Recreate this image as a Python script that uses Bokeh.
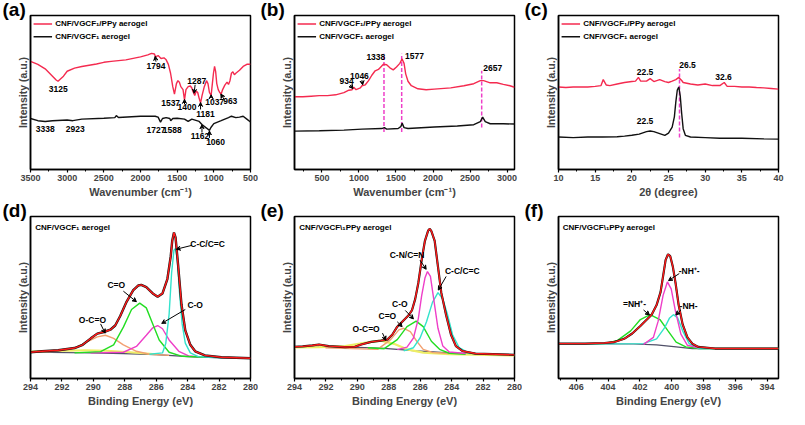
from bokeh.plotting import figure
from bokeh.models import Range1d, SingleIntervalTicker, FixedTicker, Arrow, VeeHead
from bokeh.layouts import row, column
from bokeh.core.properties import value
from bokeh.embed import file_html
from bokeh.resources import INLINE

FONT = "Liberation Sans"
RED = "#f42a4f"
BLACK = "#111111"
MAG = "#ee3fc8"
GREEN = "#22dd22"
CYAN = "#33e3cc"
ORANGE = "#f2a070"
YELLOW = "#eeee66"
BASE = "#505068"

# ---------------- (a) FTIR ----------------
a_x_ppy = [3500,3400,3300,3200,3150,3125,3050,3000,2900,2800,2600,2500,2400,2200,2000,1900,1850,1810,1794,1760,
           1720,1680,1650,1620,1590,1560,1537,1510,1490,1470,1450,1420,1400,1380,1350,1320,1300,1287,1260,1240,
           1220,1200,1181,1160,1130,1100,1080,1060,1037,1020,1005,990,975,960,940,920,900,880,850,820,
           800,780,760,740,720,700,650,600,550,500]
a_y_ppy = [70.2,68.3,65.4,60.6,58.1,57.3,60.6,63.8,65.8,66.9,68.5,69.6,70.2,71.2,73.1,74.4,75.4,75.0,73.1,74.0,
           72.1,72.5,71.2,68.3,62.5,53.8,49.0,55.8,57.7,56.7,53.8,51.9,45.2,51.9,53.8,54.2,52.9,51.0,48.1,51.0,
           50.0,46.2,43.3,48.1,53.8,57.7,55.8,50.0,48.1,55.8,62.5,66.9,63.5,55.8,51.9,50.0,49.0,51.9,54.8,56.7,
           55.2,57.7,62.5,63.5,61.5,62.5,64.4,66.9,68.3,68.3]
a_x_cnf = [3500,3400,3300,3200,3000,2923,2800,2500,2350,2330,2300,2000,1800,1760,1727,1700,1650,1600,1588,1560,
           1500,1400,1350,1300,1200,1162,1100,1060,1040,1000,950,900,800,760,700,650,600,550,500]
a_y_cnf = [33.1,31.7,31.2,31.7,32.1,31.7,32.7,33.3,33.7,35.0,33.8,34.6,34.6,34.0,30.8,33.1,33.7,33.1,31.7,33.1,
           33.3,32.7,31.2,32.7,31.2,29.2,26.9,25.4,27.3,29.8,30.8,31.7,33.7,34.6,33.7,34.0,34.6,32.7,30.8]
a_labels = ["1794","3125","1537","1400","1287","1181","1037","963","3338","2923","1727","1588","1162","1060"]

# ---------------- (b) Raman ----------------
b_x_ppy = [132,243,354,465,575,686,797,864,908,930,961,1019,1041,1086,1130,1174,1219,1263,1330,1374,
           1418,1463,1507,1552,1583,1609,1631,1662,1707,1796,1907,2017,2239,2417,2550,2639,2683,2772,2861,2949,
           3038,3100]
b_y_ppy = [47.2,47.2,47.6,48.0,48.0,48.5,49.9,51.5,51.8,53.4,51.8,53.0,54.4,55.0,57.7,61.2,64.1,65.0,68.3,68.0,
           66.0,64.7,66.6,68.9,71.8,68.9,62.1,57.3,54.4,52.4,51.8,52.2,53.0,54.4,55.7,57.7,57.7,56.3,56.3,55.3,
           54.4,53.4]
b_x_cnf = [132,465,797,1041,1308,1343,1374,1529,1565,1583,1609,1662,2017,2328,2550,2639,2670,2705,2772,2949,3100]
b_y_cnf = [24.9,25.2,25.6,26.2,26.6,27.2,26.2,26.6,27.8,30.1,27.2,26.6,27.6,28.2,29.1,31.1,34.0,31.1,29.7,29.7,29.5]
b_peaks = [1338, 1577, 2657]

# ---------------- (c) XRD ----------------
c_x_ppy = [10,11,12,13,14,15,15.8,16.1,16.5,17,18,19,20,20.5,20.9,21.2,22,22.5,23,23.8,
           24.5,25,25.5,26,26.4,26.8,27,28,29,30,31,32,32.6,33,34,35,36,37,38,39,40]
c_y_ppy = [53.6,53.2,53.6,53.6,53.6,54.0,54.5,58.4,54.9,54.5,55.5,56.5,57.1,57.4,59.8,57.4,57.4,59.0,57.1,58.4,
           57.1,56.5,57.4,58.4,59.8,57.8,56.5,55.5,54.9,55.5,54.5,54.5,56.5,54.0,54.0,53.6,53.6,53.2,53.0,52.6,52.2]
c_x_cnf = [10,12,14,16,18,19,20,21,22,22.5,23,24,24.5,25,25.5,25.8,26.0,26.2,26.4,26.6,
           26.8,27.0,27.3,28,30,32,35,38,40]
c_y_cnf = [21.1,20.7,21.1,21.1,21.3,21.7,22.2,23.0,24.6,25.0,24.6,23.0,22.2,23.6,27.5,34.2,43.9,51.6,53.6,47.8,
           36.2,26.5,22.2,21.1,20.7,20.3,20.3,19.9,19.7]

# ---------------- (d) C1s CNF/VGCF ----------------
d_x_env = [294.0,293.27,292.24,291.20,290.68,290.16,289.75,289.33,288.92,288.61,288.29,287.88,287.46,287.15,286.95,286.63,
           286.22,285.91,285.60,285.29,285.08,284.98,284.87,284.77,284.60,284.39,284.15,283.83,283.52,282.90,281.86,280.0]
d_y_env = [16.2,16.8,17.4,18.8,20.8,24.8,27.7,28.7,30.1,32.7,38.6,47.5,54.5,57.4,57.8,56.4,
           52.5,50.5,52.5,61.4,75.2,85.1,90.1,87.1,69.3,45.5,29.7,20.8,16.8,14.3,13.1,12.5]
d_x_base = [294.0,290.16,288.09,286.01,283.94,281.86,280.0]
d_y_base = [16.2,15.8,15.4,14.7,13.5,12.7,12.5]
d_x_cc = [286.43,285.60,285.39,285.18,285.02,284.87,284.77,284.66,284.52,284.35,284.15,283.83,283.32,281.86]
d_y_cc = [15.0,15.8,21.8,39.6,65.3,79.2,80.2,73.3,53.5,33.7,21.8,15.8,13.5,12.7]
d_x_co2 = [291.20,289.54,288.71,288.09,287.57,287.05,286.63,286.22,285.81,285.18,284.35,282.90]
d_y_co2 = [15.8,16.6,20.8,31.7,42.6,46.5,43.6,33.7,23.8,16.2,13.7,13.1]
d_x_co = [290.16,288.09,287.26,286.63,286.22,285.91,285.60,285.18,284.56,283.94,282.90]
d_y_co = [15.8,16.2,19.8,26.7,31.3,32.7,30.7,23.8,16.8,13.9,13.1]
d_x_oco = [294.0,292.24,291.2,290.37,289.75,289.23,288.71,288.09,287.26,286.43,285.18]
d_y_oco = [16.2,17.0,18.8,22.8,25.7,26.7,24.8,20.8,16.8,15.0,14.3]
d_x_sat = [294.0,292.24,290.58,289.12,287.67,286.01]
d_y_sat = [16.6,17.0,17.4,17.2,16.2,14.9]

# ---------------- (e) C1s CNF/VGCF/PPy ----------------
e_x_env = [294.0,293.48,292.86,292.44,291.82,290.78,290.16,289.75,289.12,288.50,288.09,287.78,287.46,287.05,286.74,286.53,
           286.32,286.12,285.91,285.70,285.49,285.39,285.29,285.08,284.87,284.66,284.35,284.04,283.73,283.32,282.49,280.0]
e_y_env = [19.6,19.8,20.4,21.0,20.0,19.4,19.6,21.0,22.6,23.4,24.0,27.0,32.0,36.0,39.0,42.0,
           49.0,59.0,73.0,85.0,91.4,92.4,91.0,85.0,69.0,53.0,39.0,27.0,20.0,17.0,15.4,14.6]
e_x_base = [294.0,290.37,288.29,286.22,284.15,282.07,280.0]
e_y_base = [19.6,19.4,18.6,17.0,15.8,15.0,14.6]
e_x_cn = [287.46,286.84,286.43,286.12,285.91,285.70,285.54,285.35,285.14,284.87,284.56,284.15,283.11]
e_y_cn = [17.8,19.4,25.0,37.0,51.0,62.0,66.0,63.0,49.0,31.0,20.0,16.4,15.4]
e_x_cc = [287.05,286.43,286.01,285.60,285.22,284.87,284.56,284.25,283.94,283.52,282.90,281.66]
e_y_cc = [17.0,19.0,25.0,35.0,47.0,53.0,49.0,39.0,27.0,19.0,15.6,15.0]
e_x_co = [289.33,288.29,287.46,286.84,286.26,285.81,285.29,284.77,284.15,283.11]
e_y_co = [19.0,18.4,24.0,32.0,35.4,32.0,23.0,18.0,15.6,15.0]
e_x_co2 = [292.03,288.71,287.88,287.36,287.05,286.63,286.22,285.81,285.18,284.15]
e_y_co2 = [19.0,18.0,24.0,30.0,31.0,29.0,23.0,18.0,16.0,15.4]
e_x_oco = [294.0,292.44,290.78,289.54,288.50,287.67,286.84,285.81,284.15,280.0]
e_y_oco = [19.2,19.4,20.0,22.0,23.4,21.4,18.0,16.0,15.0,14.2]

# ---------------- (f) N1s CNF/VGCF/PPy ----------------
f_x_env = [407.12,405.45,404.22,403.61,402.99,402.48,401.97,401.56,401.26,400.95,400.70,400.54,400.38,400.23,400.09,
           399.93,399.76,399.56,399.31,399.01,398.70,398.33,397.27,395.22,393.28]
f_y_env = [21.5,21.5,21.9,22.5,24.5,27.8,32.4,36.4,39.4,45.3,53.3,63.2,73.2,76.7,75.5,
           69.2,59.2,45.3,33.4,25.4,21.5,19.5,18.5,18.5,18.5]
f_x_base = [407.12,402.38,400.95,399.72,398.70,393.28]
f_y_base = [21.5,21.3,20.7,19.5,18.5,18.5]
f_x_nhp = [401.77,401.15,400.85,400.54,400.27,400.03,399.76,399.42,399.01,398.29]
f_y_nhp = [21.1,25.4,35.4,51.3,59.6,55.3,41.4,27.4,20.5,18.9]
f_x_enh = [407.12,404.22,403.40,402.58,401.97,401.36,400.74,400.23,399.72,399.11,398.29,393.28]
f_y_enh = [21.5,21.5,23.5,29.4,36.4,39.4,36.4,29.4,22.5,19.5,18.5,18.5]
f_x_nh = [407.12,401.77,400.95,400.44,400.13,399.89,399.62,399.31,398.90,398.29,393.28]
f_y_nh = [21.3,21.5,24.5,31.4,37.4,39.4,37.4,29.4,21.5,18.5,18.5]

LEG1 = "CNF/VGCF\u2081/PPy aerogel"
LEG2 = "CNF/VGCF\u2081 aerogel"

BOTTOM = 27


def make_fig(w, h, xr, left, top, right, xlabel, interval, tag):
    p = figure(width=w, height=h, x_range=Range1d(*xr), y_range=Range1d(0, 100),
               output_backend="svg", toolbar_location=None,
               min_border_left=left, min_border_right=right,
               min_border_top=top, min_border_bottom=BOTTOM, title=tag)
    p.title.align = "left"
    p.title.offset = -left + 2
    p.title.standoff = -9
    p.title.text_font = FONT
    p.title.text_font_style = "bold"
    p.title.text_font_size = "19px"
    p.title.text_color = "black"
    p.grid.visible = False
    p.background_fill_color = "white"
    p.border_fill_color = "white"
    p.outline_line_color = "black"
    p.outline_line_width = 1.5
    xa = p.xaxis[0]
    xa.ticker = SingleIntervalTicker(interval=interval, num_minor_ticks=2)
    xa.axis_label = xlabel
    xa.axis_label_text_font = FONT
    xa.axis_label_text_font_style = "bold"
    xa.axis_label_text_font_size = "11px"
    xa.axis_label_standoff = 2
    xa.major_label_text_font = FONT
    xa.major_label_text_font_style = "bold"
    xa.major_label_text_font_size = "9px"
    xa.major_label_standoff = 2
    xa.major_tick_in = 0
    xa.major_tick_out = 3
    xa.minor_tick_in = 0
    xa.minor_tick_out = 2
    xa.axis_line_width = 1.5
    xa.major_tick_line_width = 1.2
    ya = p.yaxis[0]
    ya.ticker = FixedTicker(ticks=[])
    ya.axis_label = "Intensity (a.u.)"
    ya.axis_label_text_font = FONT
    ya.axis_label_text_font_style = "bold"
    ya.axis_label_text_font_size = "10.5px"
    ya.axis_label_standoff = 2
    ya.axis_line_width = 1.5
    return p


def fr(p, fx, fy):
    xs, xe = p.x_range.start, p.x_range.end
    return xs + fx * (xe - xs), fy * 100


def add_legend(p):
    for fy, col, txt in [(0.945, RED, LEG1), (0.862, BLACK, LEG2)]:
        x0, y0 = fr(p, 0.014, fy)
        x1, _ = fr(p, 0.098, fy)
        xt, _ = fr(p, 0.112, fy)
        p.line([x0, x1], [y0, y0], line_color=col, line_width=1.5)
        p.text([xt], [y0], text=[txt], text_font=value(FONT), text_font_style="bold",
               text_font_size="8px", text_baseline="middle", text_align="left", text_color="black")


def add_text(p, xs, ys, labels, align="center"):
    p.text(xs, ys, text=labels, text_font=value(FONT), text_font_style="bold",
           text_font_size="8.5px", text_baseline="middle", text_align=align, text_color="black")


def add_arrows(p, arrows):
    for (xs, ys, xe, ye) in arrows:
        p.add_layout(Arrow(end=VeeHead(size=4, line_color="black", fill_color="black", line_width=1),
                           x_start=xs, y_start=ys, x_end=xe, y_end=ye,
                           line_color="black", line_width=1))


W = [258, 264, 267]
R = [8, 8, 11]
L = [30, 36, 36]
H1, H2 = 200, 209
T1, T2 = 15, 16

# (a)
pa = make_fig(W[0], H1, (3500, 500), L[0], T1, R[0], "Wavenumber (cm\u207b\u00b9)", 500, "(a)")
pa.line(a_x_cnf, a_y_cnf, line_color=BLACK, line_width=1.4)
pa.line(a_x_ppy, a_y_ppy, line_color=RED, line_width=1.4)
add_legend(pa)
add_text(pa, [1789, 3122, 1589, 1367, 1233, 1113, 989, 776, 3300, 2891, 1789, 1567, 1189, 976],
         [67.3, 52.3, 43.1, 40.8, 57.7, 36.2, 43.8, 44.2, 26.5, 26.5, 25.6, 25.6, 21.5, 17.7], a_labels)
add_arrows(pa, [(1789, 70.0, 1800, 73.5), (1255, 55.0, 1270, 49.5), (1181, 39.0, 1181, 43.5),
                (1037, 46.5, 1037, 48.5), (860, 45.5, 905, 49.0), (1162, 24.0, 1162, 29.0),
                (1060, 20.5, 1060, 25.0), (1400, 42.5, 1400, 45.5)])

# (b)
pb = make_fig(W[1], H1, (130, 3100), L[1], T1, R[1], "Wavenumber (cm\u207b\u00b9)", 500, "(b)")
for xp, top, bot in zip(b_peaks, [75.1, 75.1, 64.1], [24.3, 24.3, 27.2]):
    pb.line([xp, xp], [bot, top], line_color=MAG, line_width=1.5, line_dash="4 2")
pb.line(b_x_cnf, b_y_cnf, line_color=BLACK, line_width=1.4)
pb.line(b_x_ppy, b_y_ppy, line_color=RED, line_width=1.4)
add_legend(pb)
add_text(pb, [1228, 1751, 833, 1006, 2807], [73.2, 73.8, 57.7, 60.6, 65.8],
         ["1338", "1577", "934", "1046", "2657"])
add_arrows(pb, [(880, 55.0, 920, 52.5), (1040, 58.0, 1050, 55.0)])

# (c)
pc = make_fig(W[2], H1, (10, 40), L[2], T1, R[2], "2\u03b8 (degree)", 5, "(c)")
pc.line([26.5, 26.5], [20.7, 65.2], line_color=MAG, line_width=1.5, line_dash="4 2")
pc.line(c_x_cnf, c_y_cnf, line_color=BLACK, line_width=1.4)
pc.line(c_x_ppy, c_y_ppy, line_color=RED, line_width=1.4)
add_legend(pc)
add_text(pc, [21.8, 21.8, 27.6, 32.5], [63.2, 31.3, 68.1, 60.0], ["22.5", "22.5", "26.5", "32.6"])


def xps_common(p, title, x0):
    p.text([x0], [93.2], text=[title], text_font=value(FONT), text_font_style="bold",
           text_font_size="8px", text_baseline="middle", text_align="left", text_color="black")


# (d)
pd_ = make_fig(W[0], H2, (294, 280), L[0], T2, R[0], "Binding Energy (eV)", 2, "(d)")
pd_.line(d_x_base, d_y_base, line_color=BASE, line_width=1.2)
pd_.line(d_x_sat, d_y_sat, line_color=YELLOW, line_width=2)
pd_.line(d_x_oco, d_y_oco, line_color=ORANGE, line_width=1.4)
pd_.line(d_x_co, d_y_co, line_color=MAG, line_width=1.4)
pd_.line(d_x_co2, d_y_co2, line_color=GREEN, line_width=1.4)
pd_.line(d_x_cc, d_y_cc, line_color=CYAN, line_width=1.4)
pd_.line(d_x_env, d_y_env, line_color=BLACK, line_width=2.4)
pd_.line(d_x_env, d_y_env, line_color="#ff1a1a", line_width=1.4)
xps_common(pd_, LEG2, 293.7)
add_text(pd_, [282.73, 288.54, 283.52, 290.06], [83.2, 57.8, 45.1, 36.4], ["C-C/C=C", "C=O", "C-O", "O-C=O"])
add_arrows(pd_, [(283.73, 82.2, 284.72, 79.8), (288.09, 53.9, 287.26, 47.4),
                 (284.15, 42.6, 285.65, 34.0), (289.54, 33.7, 289.25, 28.0)])

# (e)
pe = make_fig(W[1], H2, (294, 280), L[1], T2, R[1], "Binding Energy (eV)", 2, "(e)")
pe.line(e_x_base, e_y_base, line_color=BASE, line_width=1.2)
pe.line(e_x_oco, e_y_oco, line_color=YELLOW, line_width=2.2)
pe.line(e_x_co2, e_y_co2, line_color=ORANGE, line_width=1.4)
pe.line(e_x_co, e_y_co, line_color=GREEN, line_width=1.4)
pe.line(e_x_cc, e_y_cc, line_color=CYAN, line_width=1.4)
pe.line(e_x_cn, e_y_cn, line_color=MAG, line_width=1.4)
pe.line(e_x_env, e_y_env, line_color=BLACK, line_width=2.2)
pe.line(e_x_env, e_y_env, line_color="#ff1a1a", line_width=1.4)
xps_common(pe, "CNF/VGCF\\\u2081PPy aerogel", 293.7)
add_text(pe, [286.84, 283.32, 287.30, 288.09, 289.44], [76.4, 66.6, 46.0, 38.6, 30.6],
         ["C-N/C=N", "C-C/C=C", "C-O", "C=O", "O-C=O"])
add_arrows(pe, [(286.01, 73.0, 285.62, 67.4), (284.35, 63.0, 284.85, 54.6), (286.95, 42.0, 286.43, 36.8),
                (287.46, 35.0, 287.15, 32.0), (288.40, 28.0, 288.19, 23.6)])

# (f)
pf = make_fig(W[2], H2, (407.12, 393.28), L[2], T2, R[2], "Binding Energy (eV)", 2, "(f)")
pf.line(f_x_base, f_y_base, line_color=BASE, line_width=1.2)
pf.line(f_x_enh, f_y_enh, line_color=GREEN, line_width=1.4)
pf.line(f_x_nh, f_y_nh, line_color=CYAN, line_width=1.4)
pf.line(f_x_nhp, f_y_nhp, line_color=MAG, line_width=1.4)
pf.line(f_x_env, f_y_env, line_color=BLACK, line_width=2.2)
pf.line(f_x_env, f_y_env, line_color="#ff1a1a", line_width=1.4)
xps_common(pf, "CNF/VGCF\\\u2081PPy aerogel", 406.85)
add_text(pf, [398.90, 402.34, 398.94], [66.6, 45.7, 44.9], ["-NH\u207a-", "=NH\u207a-", "-NH-"])
add_arrows(pf, [(399.52, 64.8, 400.20, 60.4), (401.77, 42.3, 401.40, 39.2), (399.42, 42.3, 399.74, 39.2)])

layout = column(row(pa, pb, pc), row(pd_, pe, pf))
open("out.html", "w").write(file_html(layout, INLINE))
